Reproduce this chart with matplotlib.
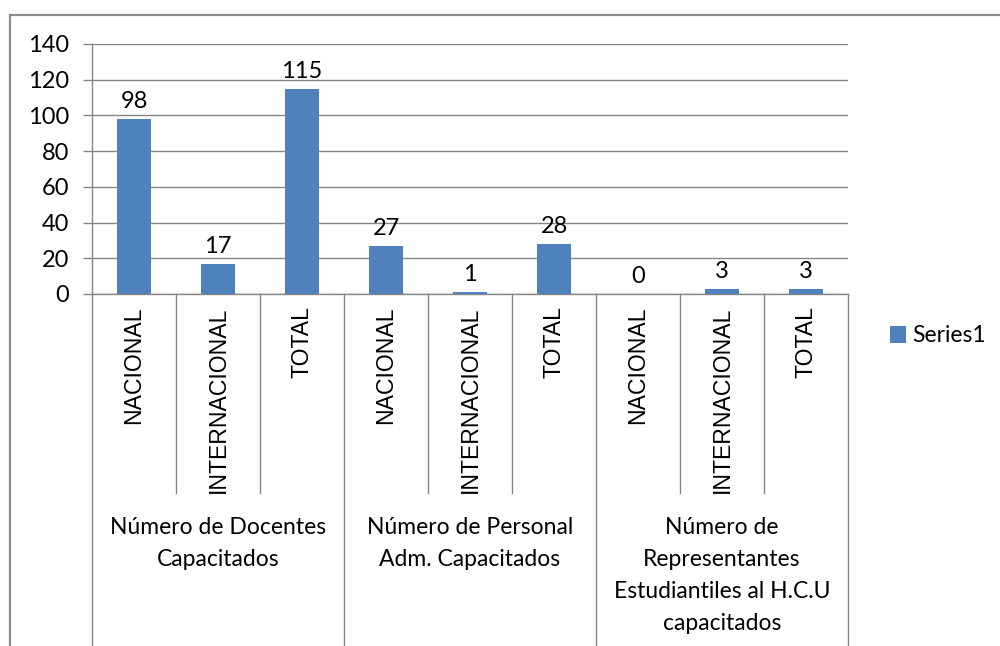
import matplotlib
matplotlib.use("Agg")
import matplotlib.pyplot as plt
from matplotlib.patches import Rectangle
import matplotlib.transforms as mtransforms

groups = ["Número de Docentes\nCapacitados",
          "Número de Personal\nAdm. Capacitados",
          "Número de\nRepresentantes\nEstudiantiles al H.C.U\ncapacitados"]
subcats = ["NACIONAL", "INTERNACIONAL", "TOTAL"]
values = [98, 17, 115, 27, 1, 28, 0, 3, 3]
series_name = "Series1"

BAR = "#4F81BD"
GRID = "#868686"
CAL = ["Lato", "DejaVu Sans"]
ARIAL = ["Liberation Sans", "DejaVu Sans"]

W, H = 1000, 646
fig = plt.figure(figsize=(W / 100, H / 100), dpi=100)
ax = fig.add_axes([92 / W, (H - 294) / H, 756 / W, 250 / H])

n = len(values)
xs = list(range(n))
bars = ax.bar(xs, values, width=0.4, color=BAR, zorder=3, label=series_name)
ax.set_xlim(-0.5, n - 0.5)
ax.set_ylim(0, 140)
ax.set_yticks(range(0, 141, 20))
ax.yaxis.grid(True, color=GRID, linewidth=1, zorder=0)
for lab in ax.get_yticklabels():
    lab.set_fontfamily(CAL)
ax.tick_params(axis="y", length=6.5, width=1, color=GRID, pad=10, labelsize=17)
ax.tick_params(axis="x", length=0, labelbottom=False)
for s in ["top", "right"]:
    ax.spines[s].set_visible(False)
for s in ["left", "bottom"]:
    ax.spines[s].set_color(GRID)
    ax.spines[s].set_linewidth(1)

# data labels
for x, v in zip(xs, values):
    ax.annotate(str(v), (x, v), xytext=(0, 5), textcoords="offset points",
                ha="center", va="bottom", fontsize=17, family=CAL)

trans = mtransforms.blended_transform_factory(ax.transData, ax.transAxes)
# inner separators & labels
for i in range(n + 1):
    xb = i - 0.5
    if i % 3 == 0:
        ax.plot([xb, xb], [0, -1.6], transform=trans, color=GRID, lw=1, clip_on=False)
    else:
        ax.plot([xb, xb], [0, -0.796], transform=trans, color=GRID, lw=1, clip_on=False)
for i in range(n):
    ax.text(i, -0.05, subcats[i % 3], transform=trans, rotation=90,
            ha="center", va="top", fontsize=16.6, family=ARIAL)
for g, name in enumerate(groups):
    ax.text(3 * g + 1, -0.89, name, transform=trans, ha="center", va="top",
            fontsize=16.5, family=CAL, linespacing=1.65)

# legend
leg = fig.legend(handles=[bars], labels=[series_name], loc="center left",
                 bbox_to_anchor=(869 / W, 1 - 336 / H), frameon=False,
                 prop={"family": CAL, "size": 16.5}, handlelength=0.7,
                 handleheight=0.7, handletextpad=0.3)

# outer chart border
fig.patches.append(Rectangle((10 / W, -0.2), 1.2, 1.2 - 15 / H,
                             transform=fig.transFigure, fill=False,
                             edgecolor="#8c8c8c", linewidth=1.6))

fig.savefig("out.png", dpi=100)
